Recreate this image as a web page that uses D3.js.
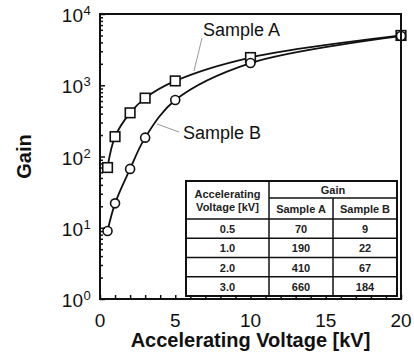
<!DOCTYPE html>
<html>
<head>
<meta charset="utf-8">
<script src="https://cdn.jsdelivr.net/npm/d3@7"></script>
<style>
  body { margin: 0; background: #fff; }
  svg { display: block; font-family: "Liberation Sans", Arial, sans-serif; }
</style>
</head>
<body>
<svg id="chart" width="414" height="364"></svg>
<script>
// Gain vs accelerating voltage, two samples, log y
var voltages = [0.5, 1, 2, 3, 5, 10, 20];
var gainA = [70, 190, 410, 660, 1150, 2450, 5000];
var gainB = [9, 22, 67, 184, 620, 2050, 4900];
var xTickLabels = [0, 5, 10, 15, 20];
var yDecades = [0, 1, 2, 3, 4];
var tableRows = 4; // table lists the first four voltages

(function () {
var svg = d3.select("#chart"),
    pL = 100, pR = 401, pT = 14, pB = 299;

var x = d3.scaleLinear().domain([0, 20]).range([pL, pR]);
var y = d3.scaleLog().domain([1, 1e4]).range([pB, pT]);

var line = d3.line()
    .x(function (d) { return x(d[0]); })
    .y(function (d) { return y(d[1]); })
    .curve(d3.curveCatmullRom.alpha(0.5));

var dataA = voltages.map(function (v, i) { return [v, gainA[i]]; }),
    dataB = voltages.map(function (v, i) { return [v, gainB[i]]; });

// curves
[dataA, dataB].forEach(function (d) {
    svg.append("path")
        .attr("d", line(d))
        .attr("fill", "none")
        .attr("stroke", "#111")
        .attr("stroke-width", 1.8);
});

// markers: squares first, circles on top
svg.selectAll("rect.a")
    .data(dataA)
    .enter().append("rect")
    .attr("class", "a")
    .attr("x", function (d) { return x(d[0]) - 4.8; })
    .attr("y", function (d) { return y(d[1]) - 4.8; })
    .attr("width", 9.6)
    .attr("height", 9.6)
    .attr("fill", "#fff")
    .attr("stroke", "#111")
    .attr("stroke-width", 1.6);

svg.selectAll("circle.b")
    .data(dataB)
    .enter().append("circle")
    .attr("class", "b")
    .attr("cx", function (d) { return x(d[0]); })
    .attr("cy", function (d) { return y(d[1]); })
    .attr("r", 4.5)
    .attr("fill", "#fff")
    .attr("stroke", "#111")
    .attr("stroke-width", 1.6);

// series labels with leader lines
svg.append("line")
    .attr("x1", 202).attr("y1", 38).attr("x2", 194).attr("y2", 71)
    .attr("stroke", "#999").attr("stroke-width", 1);
svg.append("text")
    .attr("x", 203).attr("y", 36)
    .attr("font-size", 18).attr("fill", "#111")
    .text("Sample A");
svg.append("line")
    .attr("x1", 157).attr("y1", 124).attr("x2", 179).attr("y2", 132)
    .attr("stroke", "#999").attr("stroke-width", 1);
svg.append("text")
    .attr("x", 183).attr("y", 139)
    .attr("font-size", 18).attr("fill", "#111")
    .text("Sample B");

// table
var tL = 186, tR = 397, tT = 181, tB = 296,
    c1 = 269, c2 = 333, hMid = 198, hBot = 219;
var rowY = d3.scaleBand().domain(d3.range(tableRows)).range([hBot, tB]);
var tbl = svg.append("g");
tbl.append("rect")
    .attr("x", tL).attr("y", tT).attr("width", tR - tL).attr("height", tB - tT)
    .attr("fill", "#fff").attr("stroke", "#111").attr("stroke-width", 2);
var hl = function (x1, x2, yy) {
    tbl.append("line").attr("x1", x1).attr("x2", x2).attr("y1", yy).attr("y2", yy)
        .attr("stroke", "#111").attr("stroke-width", 1.5);
};
var vl = function (xx, y1, y2) {
    tbl.append("line").attr("x1", xx).attr("x2", xx).attr("y1", y1).attr("y2", y2)
        .attr("stroke", "#111").attr("stroke-width", 1.5);
};
hl(c1, tR, hMid);
hl(tL, tR, hBot);
d3.range(1, tableRows).forEach(function (i) { hl(tL, tR, rowY(i)); });
vl(c1, tT, tB);
vl(c2, hMid, tB);

var cell = function (cx, cy, s) {
    tbl.append("text")
        .attr("x", cx).attr("y", cy)
        .attr("text-anchor", "middle").attr("dominant-baseline", "central")
        .attr("font-size", 11).attr("font-weight", "bold").attr("fill", "#222")
        .text(s);
};
cell((tL + c1) / 2, 194, "Accelerating");
cell((tL + c1) / 2, 207, "Voltage [kV]");
cell((c1 + tR) / 2, 190, "Gain");
cell((c1 + c2) / 2, 209, "Sample A");
cell((c2 + tR) / 2, 209, "Sample B");
d3.range(tableRows).forEach(function (i) {
    var cy = rowY(i) + rowY.bandwidth() / 2 + 0.5;
    cell((tL + c1) / 2, cy, voltages[i].toFixed(1));
    cell((c1 + c2) / 2, cy, gainA[i]);
    cell((c2 + tR) / 2, cy, gainB[i]);
});

// ticks, pointing inward
var xAxis = d3.axisBottom(x)
    .tickValues(d3.range(0, 21, 1))
    .tickSize(-4)
    .tickFormat("");
svg.append("g")
    .attr("transform", "translate(0," + pB + ")")
    .call(xAxis)
    .call(function (g) {
        g.select(".domain").remove();
        g.selectAll("line").attr("stroke", "#111").attr("stroke-width", 1.5);
    });

var minor = [];
yDecades.slice(0, -1).forEach(function (e) {
    d3.range(2, 10).forEach(function (m) { minor.push(m * Math.pow(10, e)); });
});
svg.append("g")
    .attr("transform", "translate(" + pL + ",0)")
    .call(d3.axisLeft(y).tickValues(minor).tickSize(-3).tickFormat(""))
    .call(function (g) {
        g.select(".domain").remove();
        g.selectAll("line").attr("stroke", "#111").attr("stroke-width", 1.5);
    });
svg.append("g")
    .attr("transform", "translate(" + pL + ",0)")
    .call(d3.axisLeft(y).tickValues(yDecades.map(function (e) { return Math.pow(10, e); }))
        .tickSize(-5).tickFormat(""))
    .call(function (g) {
        g.select(".domain").remove();
        g.selectAll("line").attr("stroke", "#111").attr("stroke-width", 1.5);
    });

// frame
svg.append("rect")
    .attr("x", pL).attr("y", pT)
    .attr("width", pR - pL).attr("height", pB - pT)
    .attr("fill", "none").attr("stroke", "#111").attr("stroke-width", 2);

// tick labels
svg.selectAll("text.xl")
    .data(xTickLabels)
    .enter().append("text")
    .attr("class", "xl")
    .attr("x", function (d) { return x(d); })
    .attr("y", pB + 28)
    .attr("text-anchor", "middle")
    .attr("font-size", 19).attr("fill", "#111")
    .text(function (d) { return d; });

var yl = svg.selectAll("g.yl")
    .data(yDecades)
    .enter().append("g")
    .attr("class", "yl")
    .attr("transform", function (d) { return "translate(83," + y(Math.pow(10, d)) + ")"; });
yl.append("text")
    .attr("y", 8)
    .attr("text-anchor", "end")
    .attr("font-size", 19).attr("fill", "#111")
    .text("10");
yl.append("text")
    .attr("x", 0.5).attr("y", 1)
    .attr("font-size", 13).attr("fill", "#111")
    .text(function (d) { return d; });

// axis titles
svg.append("text")
    .attr("x", (pL + pR) / 2).attr("y", 347)
    .attr("text-anchor", "middle")
    .attr("font-size", 20).attr("font-weight", "bold").attr("fill", "#111")
    .text("Accelerating Voltage [kV]");
svg.append("text")
    .attr("transform", "translate(31," + (pT + pB) / 2 + ") rotate(-90)")
    .attr("text-anchor", "middle")
    .attr("font-size", 20).attr("font-weight", "bold").attr("fill", "#111")
    .text("Gain");
})();
</script>
</body>
</html>
